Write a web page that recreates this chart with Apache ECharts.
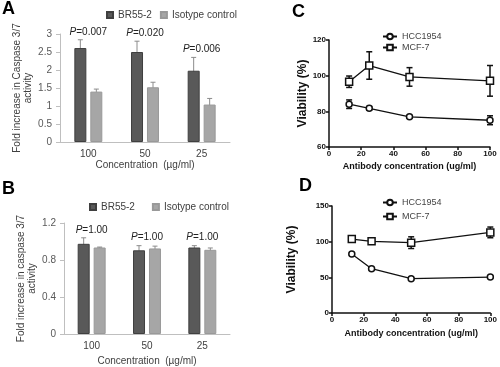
<!DOCTYPE html>
<html>
<head>
<meta charset="utf-8">
<script src="https://cdn.jsdelivr.net/npm/echarts@6/dist/echarts.min.js"></script>
<style>
  html, body { margin: 0; padding: 0; background: #fff; }
  #chart { width: 500px; height: 367px; }
</style>
</head>
<body>
<div id="chart"></div>
<script>
// ---- data ----
const concCats = ['100', '50', '25']

// panel A: caspase 3/7, BR55-2 vs isotype
const brA = [2.61, 2.50, 1.98]
const brAErr = [0.23, 0.30, 0.37]
const isoA = [1.40, 1.52, 1.04]
const isoAErr = [0.07, 0.14, 0.17]
const pA = ['0.007', '0.020', '0.006']

// panel B
const brB = [0.975, 0.905, 0.935]
const brBErr = [0.065, 0.05, 0.02]
const isoB = [0.935, 0.925, 0.91]
const isoBErr = [0.005, 0.025, 0.02]
const pB = ['1.00', '1.00', '1.00']

// panels C / D: viability vs antibody concentration
const doses = [12.5, 25, 50, 100]
const hccC = [84, 81.7, 76.9, 75]
const hccCErr = [2.4, 1, 0.5, 2.5]
const mcfC = [96.6, 105.7, 99.3, 97.1]
const mcfCErr = [3.2, 7.7, 5.2, 8.6]
const hccD = [82.7, 62.1, 48.1, 50.4]
const hccDErr = [1, 1, 1, 1]
const mcfD = [103.7, 100.5, 98.6, 113]
const mcfDErr = [2, 2, 8.2, 7.5]

const FONT = '"Liberation Sans", Arial, sans-serif'
const DARK = '#595959'
const LIGHT = '#a6a6a6'

const chart = echarts.init(document.getElementById('chart'))

// error bar drawer (dx shifts to the bar inside a category group)
function errItem(cap, color, width, dx) {
  return (params, api) => {
    const x = api.value(0)
    const v = api.value(1)
    const e = api.value(2)
    const top = api.coord([x, v + e])
    const bot = api.coord([x, v - e])
    const cx = top[0] + dx
    const st = { stroke: color, lineWidth: width }
    return {
      type: 'group',
      children: [
        { type: 'line', shape: { x1: cx, y1: top[1], x2: cx, y2: bot[1] }, style: st },
        { type: 'line', shape: { x1: cx - cap, y1: top[1], x2: cx + cap, y2: top[1] }, style: st },
        { type: 'line', shape: { x1: cx - cap, y1: bot[1], x2: cx + cap, y2: bot[1] }, style: st }
      ]
    }
  }
}

// P-value text above each group
function pItem(labels, gap) {
  return (params, api) => {
    const i = api.value(0)
    const p = api.coord([i, api.value(1)])
    return {
      type: 'text',
      x: p[0],
      y: p[1] - gap,
      style: {
        text: '{i|P}=' + labels[i],
        rich: { i: { fontStyle: 'italic', fontSize: 10, fontFamily: FONT, fill: '#222' } },
        fontSize: 10,
        fontFamily: FONT,
        fill: '#222',
        align: 'center',
        verticalAlign: 'bottom'
      }
    }
  }
}

const withErr = (vals, errs, xs) => vals.map((v, i) => [xs ? xs[i] : i, v, errs[i]])
const groupTop = (a, ae, b, be) => a.map((v, i) => [i, Math.max(v + ae[i], b[i] + be[i])])

// ---- bar panel axes ----
function barX(gridIndex, nameGap) {
  return {
    type: 'category', gridIndex, data: concCats,
    name: 'Concentration  (µg/ml)', nameLocation: 'middle', nameGap,
    nameTextStyle: { fontFamily: FONT, fontSize: 10, color: '#404040' },
    axisLine: { lineStyle: { color: '#bfbfbf' } },
    axisTick: { show: false },
    axisLabel: { fontFamily: FONT, fontSize: 10, color: '#404040', margin: 7 }
  }
}
function barY(gridIndex, max, interval, name, nameGap) {
  return {
    type: 'value', gridIndex, min: 0, max, interval,
    name, nameLocation: 'middle', nameGap, nameRotate: 90,
    nameTextStyle: { fontFamily: FONT, fontSize: 10, color: '#404040', lineHeight: 11 },
    axisLine: { show: true, lineStyle: { color: '#bfbfbf' } },
    axisTick: { show: true, length: 4, lineStyle: { color: '#bfbfbf' } },
    axisLabel: { fontFamily: FONT, fontSize: 10, color: '#595959', margin: 8 },
    splitLine: { show: false }
  }
}

// ---- viability panel axes ----
function lineX(gridIndex, nameGap) {
  return {
    type: 'value', gridIndex, min: 0, max: 100, interval: 20,
    name: 'Antibody concentration (ug/ml)', nameLocation: 'middle', nameGap,
    nameTextStyle: { fontFamily: FONT, fontSize: 9, fontWeight: 'bold', color: '#111' },
    axisLine: { lineStyle: { color: '#111', width: 1.5 } },
    axisTick: { length: 3, lineStyle: { color: '#111', width: 1.5 } },
    axisLabel: { fontFamily: FONT, fontSize: 8, fontWeight: 'bold', color: '#111', margin: 3 },
    splitLine: { show: false }
  }
}
function lineY(gridIndex, min, max, interval, nameGap) {
  return {
    type: 'value', gridIndex, min, max, interval,
    name: 'Viability (%)', nameLocation: 'middle', nameGap, nameRotate: 90,
    nameTextStyle: { fontFamily: FONT, fontSize: 12, fontWeight: 'bold', color: '#111' },
    axisLine: { show: true, lineStyle: { color: '#111', width: 1.5 } },
    axisTick: { show: true, length: 3, lineStyle: { color: '#111', width: 1.5 } },
    axisLabel: { fontFamily: FONT, fontSize: 8, fontWeight: 'bold', color: '#111', margin: 3 },
    splitLine: { show: false }
  }
}

function barSeries(name, idx, data, color, border) {
  return {
    name, type: 'bar', xAxisIndex: idx, yAxisIndex: idx, data,
    barWidth: 12, barGap: '33%', z: 3,
    itemStyle: { color, borderColor: border, borderWidth: 1 }
  }
}
function errSeries(idx, data, cap, color, width, dx) {
  return {
    name: 'err', type: 'custom', xAxisIndex: idx, yAxisIndex: idx, z: 1,
    renderItem: errItem(cap, color, width, dx), data
  }
}
function lineSeries(name, idx, ys, symbol, size) {
  return {
    name, type: 'line', xAxisIndex: idx, yAxisIndex: idx, z: 4,
    data: ys.map((v, i) => [doses[i], v]),
    symbol, symbolSize: size, showAllSymbol: true,
    lineStyle: { color: '#111', width: 1.3 },
    itemStyle: { color: '#fff', borderColor: '#111', borderWidth: 1.5 }
  }
}

const letter = (text, left, top) => ({
  text, left, top, padding: 0,
  textStyle: { fontFamily: FONT, fontSize: 18, fontWeight: 'bold', color: '#000' }
})

const option = {
  animation: false,
  title: [letter('A', 2, 0), letter('B', 2, 180), letter('C', 292, 3), letter('D', 299, 177)],
  legend: [
    {
      data: ['BR55-2', 'Isotype control'], left: 101, top: 5, itemWidth: 6, itemHeight: 6, itemGap: 8,
      icon: 'rect', textStyle: { fontFamily: FONT, fontSize: 10, color: '#404040' }
    },
    {
      data: ['BR55-2', 'Isotype control'], left: 84, top: 197, itemWidth: 6, itemHeight: 6, itemGap: 17,
      icon: 'rect', textStyle: { fontFamily: FONT, fontSize: 10, color: '#404040' }
    },
    {
      data: ['HCC1954', 'MCF-7'], orient: 'vertical', left: 377, top: 26, itemWidth: 14, itemHeight: 7, itemGap: 0,
      textStyle: { fontFamily: FONT, fontSize: 9, color: '#444', lineHeight: 11 }
    },
    {
      data: ['HCC1954', 'MCF-7'], orient: 'vertical', left: 377, top: 192, itemWidth: 14, itemHeight: 7, itemGap: 3,
      textStyle: { fontFamily: FONT, fontSize: 9, color: '#444', lineHeight: 11 }
    }
  ],
  grid: [
    { left: 60, top: 34, width: 170, height: 108 },
    { left: 64, top: 223, width: 166, height: 114 },
    { left: 329, top: 40, width: 161, height: 107 },
    { left: 332, top: 206, width: 161, height: 107 }
  ],
  xAxis: [barX(0, 18), barX(1, 22), lineX(2, 15), lineX(3, 16)],
  yAxis: [
    barY(0, 3, 0.5, 'Fold increase in Caspase 3/7\nactivity', 22),
    barY(1, 1.2, 0.4, 'Fold increase in caspase 3/7\nactivity', 24),
    lineY(2, 60, 120, 20, 20),
    lineY(3, 0, 150, 50, 34)
  ],
  series: [
    barSeries('BR55-2', 0, brA, DARK, '#3f3f3f'),
    barSeries('Isotype control', 0, isoA, LIGHT, '#999'),
    errSeries(0, withErr(brA, brAErr), 2.5, '#8c8c8c', 1, -8),
    errSeries(0, withErr(isoA, isoAErr), 2.5, '#8c8c8c', 1, 8),
    { name: 'p', type: 'custom', xAxisIndex: 0, yAxisIndex: 0, renderItem: pItem(pA, 3), data: groupTop(brA, brAErr, isoA, isoAErr) },

    barSeries('BR55-2', 1, brB, DARK, '#3f3f3f'),
    barSeries('Isotype control', 1, isoB, LIGHT, '#999'),
    errSeries(1, withErr(brB, brBErr), 2.5, '#8c8c8c', 1, -8),
    errSeries(1, withErr(isoB, isoBErr), 2.5, '#8c8c8c', 1, 8),
    { name: 'p', type: 'custom', xAxisIndex: 1, yAxisIndex: 1, renderItem: pItem(pB, 3), data: groupTop(brB, brBErr, isoB, isoBErr) },

    lineSeries('HCC1954', 2, hccC, 'circle', 6),
    lineSeries('MCF-7', 2, mcfC, 'rect', 7),
    errSeries(2, withErr(hccC, hccCErr, doses), 3, '#111', 1.5, 0),
    errSeries(2, withErr(mcfC, mcfCErr, doses), 3, '#111', 1.5, 0),

    lineSeries('HCC1954', 3, hccD, 'circle', 6),
    lineSeries('MCF-7', 3, mcfD, 'rect', 7),
    errSeries(3, withErr(hccD, hccDErr, doses), 3, '#111', 1.5, 0),
    errSeries(3, withErr(mcfD, mcfDErr, doses), 3, '#111', 1.5, 0)
  ]
}

chart.setOption(option)
</script>
</body>
</html>
